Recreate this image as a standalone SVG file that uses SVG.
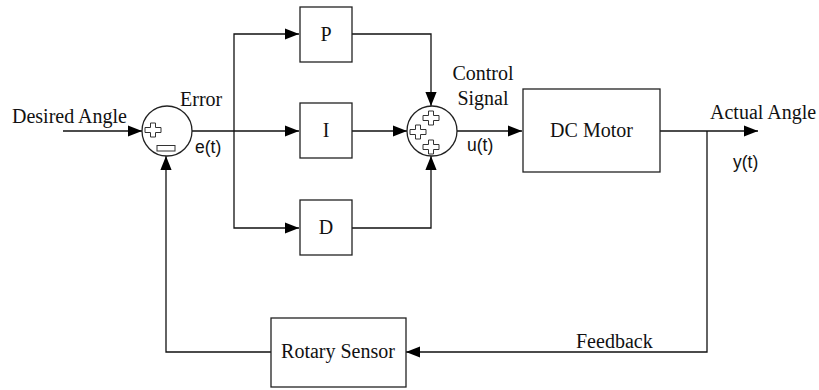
<svg xmlns="http://www.w3.org/2000/svg" width="819" height="390" viewBox="0 0 819 390">
<style>
.box{fill:#fff;stroke:#222;stroke-width:1.3}
.sum{fill:#fff;stroke:#222;stroke-width:1.3}
.sign{fill:#fff;stroke:#333;stroke-width:1}
.ln{fill:none;stroke:#111;stroke-width:1.3}
.serif{font-family:"Liberation Serif","Times New Roman",serif;font-size:20px;fill:#111}
.sans{font-family:"Liberation Sans",Arial,sans-serif;font-size:17.5px;fill:#111}
</style>
<defs>
<marker id="arr" viewBox="0 0 10 10" refX="10" refY="5" markerWidth="14" markerHeight="14" markerUnits="userSpaceOnUse" orient="auto">
<path d="M0,1 L10,5 L0,9 z" fill="#000"/>
</marker>
<path id="plus" d="M-2.5,-7 h5 v4.5 h5.5 v5 h-5.5 v4.5 h-5 v-4.5 h-5.5 v-5 h5.5 z"/>
</defs>
<rect width="819" height="390" fill="#fff"/>
<g id="connectors">
<line class="ln" x1="63" y1="131" x2="142" y2="131" marker-end="url(#arr)"/>
<line class="ln" x1="192" y1="131" x2="299" y2="131" marker-end="url(#arr)"/>
<polyline class="ln" points="234,131 234,34 299,34" marker-end="url(#arr)"/>
<polyline class="ln" points="234,131 234,228 299,228" marker-end="url(#arr)"/>
<polyline class="ln" points="352,34 431,34 431,106" marker-end="url(#arr)"/>
<line class="ln" x1="352" y1="131" x2="407" y2="131" marker-end="url(#arr)"/>
<polyline class="ln" points="352,228 431,228 431,156" marker-end="url(#arr)"/>
<line class="ln" x1="457" y1="131" x2="522" y2="131" marker-end="url(#arr)"/>
<line class="ln" x1="660" y1="131" x2="758" y2="131" marker-end="url(#arr)"/>
<polyline class="ln" points="707,131 707,352 406,352" marker-end="url(#arr)"/>
<polyline class="ln" points="271,352 166,352 166,156" marker-end="url(#arr)"/>
</g>
<g id="sum1">
<circle class="sum" cx="167" cy="131" r="25"/>
<use href="#plus" class="sign" x="153" y="130"/>
<rect class="sign" x="157" y="145.5" width="18" height="5.5"/>
</g>
<g id="sum2">
<circle class="sum" cx="432" cy="131" r="25"/>
<use href="#plus" class="sign" x="431" y="118"/>
<use href="#plus" class="sign" x="418" y="132"/>
<use href="#plus" class="sign" x="431" y="147"/>
</g>
<g id="P"><rect class="box" x="300" y="7" width="52" height="55"/><text class="serif" x="326" y="41" text-anchor="middle">P</text></g>
<g id="I"><rect class="box" x="300" y="103" width="52" height="55"/><text class="serif" x="326" y="137" text-anchor="middle">I</text></g>
<g id="D"><rect class="box" x="300" y="200" width="52" height="55"/><text class="serif" x="326" y="234" text-anchor="middle">D</text></g>
<g id="motor"><rect class="box" x="523" y="89" width="137" height="83"/><text class="serif" x="591.5" y="137" text-anchor="middle">DC Motor</text></g>
<g id="sensor"><rect class="box" x="271" y="318" width="135" height="69"/><text class="serif" x="338" y="358" text-anchor="middle">Rotary Sensor</text></g>
<g id="labels">
<text class="serif" x="12" y="123">Desired Angle</text>
<text class="serif" x="180" y="106">Error</text>
<text class="sans" x="195" y="153">e(t)</text>
<text class="serif" x="483" y="80" text-anchor="middle">Control</text>
<text class="serif" x="483" y="105" text-anchor="middle">Signal</text>
<text class="sans" x="467" y="151">u(t)</text>
<text class="serif" x="710" y="119">Actual Angle</text>
<text class="sans" x="733" y="168">y(t)</text>
<text class="serif" x="576" y="348">Feedback</text>
</g>
</svg>
